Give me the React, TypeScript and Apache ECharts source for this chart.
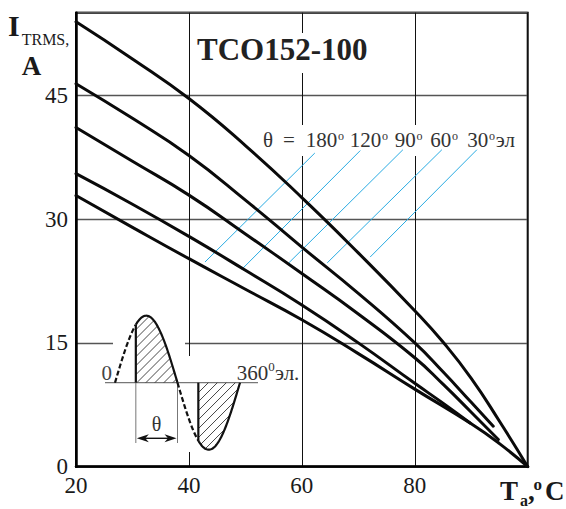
import React, { useEffect, useRef } from "react";
import * as echarts from "echarts";

// ---- axis settings / tick labels ----
const xMin = 20;
const xMax = 100;
const xStep = 20;
const yMin = 0;
const yMax = 55;
const yStep = 15;
const xTickLabels = ["20", "40", "60", "80"];
const yTickLabels = ["0", "15", "30", "45"];

// ---- curves (Ta, I_TRMS), top to bottom ----
const curve30: number[][] = [[20, 53.9], [30, 49.4], [40, 44.6], [50, 38.9], [60, 32.6], [70, 25.9], [80, 18.9], [85, 15.1], [90, 10.7], [95, 5.5], [100, 0]];
const curve60: number[][] = [[20, 46.4], [30, 42.2], [40, 37.7], [50, 32.3], [60, 26.6], [70, 21.0], [80, 15.0], [85, 11.5], [90, 7.8], [93.9, 4.9]];
const curve90: number[][] = [[20, 41.1], [30, 37.0], [40, 32.9], [50, 28.2], [60, 23.4], [70, 18.5], [80, 13.2], [85, 10.0], [90, 6.6], [94.8, 3.3]];
const curve120: number[][] = [[20, 35.5], [30, 31.8], [40, 27.9], [50, 23.8], [60, 19.6], [70, 15.0], [80, 10.1], [85, 7.7], [89.8, 5.3]];
const curve180: number[][] = [[20, 32.85], [30, 29.0], [40, 25.2], [50, 21.5], [60, 17.8], [70, 13.7], [80, 9.4], [90, 5.2], [95, 2.8], [100, 0]];

// ---- blue leader lines (label end -> curve end) ----
const leader180: number[][] = [[62.3, 38.0], [42.85, 24.8]];
const leader120: number[][] = [[70.35, 38.3], [49.35, 23.9]];
const leader90: number[][] = [[77.9, 38.4], [57.7, 24.7]];
const leader60: number[][] = [[84.8, 38.4], [64.5, 24.7]];
const leader30: number[][] = [[91.0, 38.4], [72.1, 25.4]];

const angleLabels = ["180", "120", "90", "60", "30"];
const titleText = "TCO152-100";

const SERIF = "'Liberation Serif', 'Times New Roman', serif";

function txt(x: number, y: number, text: string, size: number, opts: any = {}) {
  const align = opts.align || "left";
  return {
    type: "text",
    x,
    y,
    z: opts.z ?? 5,
    silent: true,
    style: {
      text,
      fill: opts.fill || "#1a1a1a",
      font: `${opts.bold ? "bold " : ""}${size}px ${SERIF}`,
      align,
      verticalAlign: "middle",
      textAlign: align,
      textVerticalAlign: "middle",
    },
  };
}

function line(x1: number, y1: number, x2: number, y2: number, stroke: string, w: number, extra: any = {}) {
  return {
    type: "line",
    z: 6,
    silent: true,
    shape: { x1, y1, x2, y2 },
    style: { stroke, lineWidth: w, ...extra },
  };
}

function rect(x: number, y: number, w: number, h: number) {
  return { type: "rect", z: 1, silent: true, shape: { x, y, width: w, height: h }, style: { fill: "#fff" } };
}

// ---- inset diagram (illustration of conduction angle) ----
const IN_X0 = 115;
const IN_Y0 = 382.7;
const IN_P = 125;
const IN_A = 67;
const sx = (deg: number) => IN_X0 + (deg / 360) * IN_P;
const sy = (deg: number) => IN_Y0 - IN_A * Math.sin((deg * Math.PI) / 180);
const cy = (x: number) => sy(((x - IN_X0) / IN_P) * 360);

function sinePts(a: number, b: number) {
  const pts: number[][] = [];
  for (let d = a; d <= b + 1e-6; d += 2) pts.push([sx(d), sy(d)]);
  return pts;
}

function hatch(xa: number, xb: number, above: boolean) {
  const els: any[] = [];
  const step = 9;
  for (let c = xa + IN_Y0 - 80; c < xb + IN_Y0 + 80; c += step) {
    let first: number[] | null = null;
    let last: number[] | null = null;
    for (let x = xa; x <= xb; x += 0.25) {
      const y = c - x;
      const yc = cy(x);
      const inside = above ? y <= IN_Y0 && y >= yc : y >= IN_Y0 && y <= yc;
      if (inside) {
        if (!first) first = [x, y];
        last = [x, y];
      }
    }
    if (first && last && Math.hypot(last[0] - first[0], last[1] - first[1]) > 1.5) {
      els.push(line(first[0], first[1], last[0], last[1], "#333", 0.9));
    }
  }
  return els;
}

function buildInset() {
  const els: any[] = [];
  // masks that break the grid lines behind the inset
  els.push(rect(113, 336, 72, 16));
  els.push(rect(184, 356, 10, 96));
  // baseline
  els.push(line(105, IN_Y0, 258, IN_Y0, "#777", 1.2));
  // hatching
  els.push(...hatch(sx(60), sx(180), true));
  els.push(...hatch(sx(240), sx(360), false));
  // dashed parts
  els.push({ type: "polyline", z: 7, silent: true, shape: { points: sinePts(0, 60) }, style: { stroke: "#111", lineWidth: 2.2, fill: null, lineDash: [5, 2.5] } });
  els.push({ type: "polyline", z: 7, silent: true, shape: { points: sinePts(180, 240) }, style: { stroke: "#111", lineWidth: 2.2, fill: null, lineDash: [5, 2.5] } });
  // solid conducting parts
  els.push({ type: "polyline", z: 7, silent: true, shape: { points: sinePts(60, 180) }, style: { stroke: "#111", lineWidth: 2.2, fill: null } });
  els.push({ type: "polyline", z: 7, silent: true, shape: { points: sinePts(240, 360) }, style: { stroke: "#111", lineWidth: 2.2, fill: null } });
  // firing verticals
  els.push(line(sx(60), IN_Y0, sx(60), sy(60), "#111", 2.2));
  els.push(line(sx(240), IN_Y0, sx(240), sy(240), "#111", 2.2));
  // dimension lines
  els.push(line(sx(60), IN_Y0, sx(60), 443, "#777", 1));
  els.push(line(sx(180), IN_Y0, sx(180), 443, "#777", 1));
  const ay = 438.3;
  const xl = sx(60) + 1;
  const xr = sx(180) - 1;
  els.push(line(xl + 6, ay, xr - 6, ay, "#111", 1.4));
  els.push({ type: "polygon", z: 7, silent: true, shape: { points: [[xl, ay], [xl + 12, ay - 4], [xl + 8.5, ay], [xl + 12, ay + 4]] }, style: { fill: "#111" } });
  els.push({ type: "polygon", z: 7, silent: true, shape: { points: [[xr, ay], [xr - 12, ay - 4], [xr - 8.5, ay], [xr - 12, ay + 4]] }, style: { fill: "#111" } });
  els.push(txt((xl + xr) / 2, 424, "θ", 20, { align: "center", fill: "#333", z: 7 }));
  // labels 0 and 360°эл.
  els.push(txt(112, 372.5, "0", 21, { align: "right", fill: "#444", z: 7 }));
  els.push(txt(236.7, 372.5, "360", 21, { fill: "#333", z: 7 }));
  els.push(txt(268.3, 366.5, "0", 13, { fill: "#333", z: 7 }));
  els.push(txt(275, 372.5, "эл.", 21, { fill: "#333", z: 7 }));
  return els;
}

function buildTexts() {
  const els: any[] = [];
  // title
  els.push(rect(194, 33, 178, 40));
  els.push(txt(197, 49, titleText, 31, { bold: true, fill: "#222" }));
  // angle label row
  els.push(rect(258, 125, 262, 31));
  const rowY = 140;
  els.push(txt(263, rowY, "θ", 21, { fill: "#333" }));
  els.push(txt(283, rowY, "=", 21, { fill: "#333" }));
  const xs = [305.7, 349.7, 394.7, 430.3, 467.3];
  angleLabels.forEach((a, i) => {
    const w = a.length * 10.5;
    els.push(txt(xs[i], rowY, a, 21, { fill: "#333" }));
    els.push(txt(xs[i] + w + 0.8, rowY - 4.5, "o", 12, { fill: "#333" }));
    if (i === angleLabels.length - 1) {
      els.push(txt(xs[i] + w + 7.5, rowY, "эл", 21, { fill: "#333" }));
    }
  });
  // y axis name
  els.push(txt(8, 25, "I", 30, { bold: true, fill: "#1a1a1a" }));
  els.push(txt(21.7, 39, "TRMS,", 16, { fill: "#1a1a1a" }));
  els.push(txt(21.7, 65.5, "A", 27, { bold: true, fill: "#1a1a1a" }));
  // x axis name
  els.push(txt(500, 491, "T", 27, { bold: true, fill: "#1a1a1a" }));
  els.push(txt(520, 500.5, "a", 16, { bold: true, fill: "#1a1a1a" }));
  els.push(txt(528, 491, ",", 27, { bold: true, fill: "#1a1a1a" }));
  els.push(txt(533.5, 484.5, "o", 17, { bold: true, fill: "#1a1a1a" }));
  els.push(txt(545, 491, "C", 27, { bold: true, fill: "#1a1a1a" }));
  return els;
}

export default function App() {
  const ref = useRef<HTMLDivElement>(null);

  useEffect(() => {
    if (!ref.current) return;
    const chart = echarts.init(ref.current, null, { renderer: "svg" });

    const curves = [curve30, curve60, curve90, curve120, curve180];
    const curveNames = ["30°", "60°", "90°", "120°", "180°"];
    const leaders = [leader180, leader120, leader90, leader60, leader30];

    const series: any[] = [];
    leaders.forEach((l, i) => {
      series.push({
        type: "line",
        name: "leader" + i,
        data: l,
        symbol: "none",
        silent: true,
        z: 2,
        lineStyle: { color: "#29abe2", width: 1 },
      });
    });
    curves.forEach((c, i) => {
      series.push({
        type: "line",
        name: curveNames[i],
        data: c,
        symbol: "none",
        smooth: 0.5,
        silent: true,
        z: 3,
        lineStyle: { color: "#0a0a0a", width: 3, cap: "round", join: "round" },
      });
    });

    chart.setOption({
      animation: false,
      backgroundColor: "#fff",
      grid: {
        left: 76,
        right: 38.3,
        top: 12.7,
        bottom: 42.3,
        show: true,
        borderColor: "#000",
        borderWidth: 2,
        backgroundColor: "transparent",
      },
      xAxis: {
        type: "value",
        min: xMin,
        max: xMax,
        interval: xStep,
        axisLine: { show: true, lineStyle: { color: "#000", width: 2.5 } },
        axisTick: { show: false },
        splitLine: { show: true, lineStyle: { color: "#111", width: 1 } },
        axisLabel: {
          showMaxLabel: false,
          fontFamily: SERIF,
          fontSize: 23,
          color: "#1a1a1a",
          margin: 7,
          formatter: (v: number) => (xTickLabels.includes(String(v)) ? String(v) : ""),
        },
      },
      yAxis: {
        type: "value",
        min: yMin,
        max: yMax,
        interval: yStep,
        axisLine: { show: true, lineStyle: { color: "#000", width: 2.5 } },
        axisTick: { show: false },
        splitLine: { show: true, lineStyle: { color: "#555", width: 1.3 } },
        axisLabel: {
          showMaxLabel: false,
          fontFamily: SERIF,
          fontSize: 23,
          color: "#1a1a1a",
          margin: 8,
          formatter: (v: number) => (yTickLabels.includes(String(v)) ? String(v) : ""),
        },
      },
      graphic: [...buildInset(), ...buildTexts()],
      series,
    });

    return () => chart.dispose();
  }, []);

  return (
    <div
      ref={ref}
      style={{ position: "absolute", left: 0, top: 0, width: 566, height: 509, background: "#fff" }}
    />
  );
}
